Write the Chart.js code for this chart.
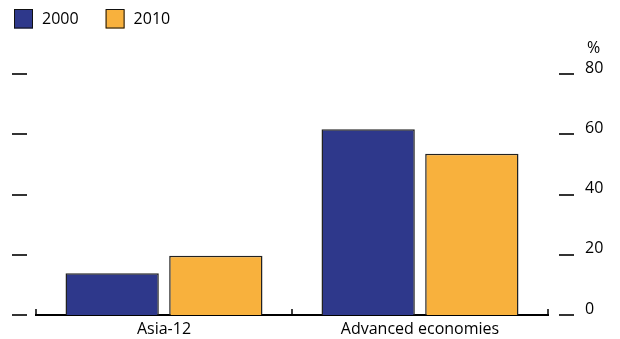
<!DOCTYPE html>
<html><head><meta charset="utf-8">
<script src="https://cdn.jsdelivr.net/npm/chart.js@4.4.1/dist/chart.umd.min.js"></script>
<style>html,body{margin:0;padding:0;background:#fff}#wrap{width:620px;height:339px}</style>
</head><body><div id="wrap"><canvas id="c" width="620" height="339"></canvas></div>
<script>
const categories = ['Asia-12', 'Advanced economies'];
const seriesNames = ['2000', '2010'];
const values2000 = [13.9, 61.7];
const values2010 = [19.7, 53.5];
const yTickValues = [0, 20, 40, 60, 80];
const unitLabel = '%';

const FONT = '"Open Sans", "DejaVu Sans", sans-serif';
const colors = ['#2e388b', '#f8b13d'];

const decor = {
  id: 'decor',
  afterDraw(chart) {
    const ctx = chart.ctx;
    const y = chart.scales.y, x = chart.scales.x;
    const area = chart.chartArea;
    ctx.save();
    // side dashes
    ctx.fillStyle = '#333';
    y.ticks.forEach(t => {
      const py = Math.round(y.getPixelForValue(t.value));
      ctx.fillRect(12, py - 1, 15, 2);
      ctx.fillRect(area.right + 11, py - 1, 15, 2);
    });
    // baseline up-ticks at category boundaries
    ctx.strokeStyle = '#000';
    ctx.lineWidth = 1.5;
    const base = y.getPixelForValue(0);
    const bounds = [area.left];
    for (let i = 0; i < categories.length - 1; i++) {
      bounds.push((x.getPixelForValue(i) + x.getPixelForValue(i + 1)) / 2);
    }
    bounds.push(area.right);
    bounds.forEach(bx => {
      ctx.beginPath();
      ctx.moveTo(bx, base);
      ctx.lineTo(bx, base - 6);
      ctx.stroke();
    });
    // unit label
    ctx.fillStyle = '#000';
    ctx.font = '16px ' + FONT;
    ctx.textAlign = 'left';
    ctx.textBaseline = 'middle';
    ctx.fillText(unitLabel, area.right + 39, y.getPixelForValue(80) - 26);
    // legend
    let lx = 14;
    chart.data.datasets.forEach(ds => {
      ctx.fillStyle = ds.backgroundColor;
      ctx.fillRect(lx, 9.5, 19, 19);
      ctx.strokeStyle = '#111';
      ctx.lineWidth = 1;
      ctx.strokeRect(lx + 0.5, 9.5, 18, 18.5);
      ctx.fillStyle = '#000';
      ctx.textBaseline = 'middle';
      ctx.fillText(ds.label, lx + 28, 19.5);
      lx += 28 + ctx.measureText(ds.label).width + 27;
    });
    ctx.restore();
  }
};

new Chart(document.getElementById('c'), {
  type: 'bar',
  data: {
    labels: categories,
    datasets: [
      { label: seriesNames[0], data: values2000, backgroundColor: colors[0], borderColor: '#222', borderWidth: 1.5 },
      { label: seriesNames[1], data: values2010, backgroundColor: colors[1], borderColor: '#222', borderWidth: 1.5 }
    ]
  },
  options: {
    responsive: false,
    animation: false,
    devicePixelRatio: 1,
    layout: { padding: { left: 36, top: 74, right: 0, bottom: 0 } },
    datasets: { bar: { barPercentage: 0.9, categoryPercentage: 0.81 } },
    plugins: { legend: { display: false }, tooltip: { enabled: false } },
    scales: {
      x: {
        offset: true,
        grid: { display: false, drawTicks: false },
        border: { display: true, color: '#000', width: 2 },
        ticks: { color: '#000', font: { family: FONT, size: 16 }, padding: 5, maxRotation: 0 },
        afterFit: s => { s.height = 24; }
      },
      y: {
        position: 'right',
        min: 0, max: 80,
        afterBuildTicks: s => { s.ticks = yTickValues.map(v => ({ value: v })); },
        grid: { display: false, drawTicks: false },
        border: { display: false },
        ticks: { color: '#000', font: { family: FONT, size: 16 }, padding: 37, labelOffset: -6 },
        afterFit: s => { s.width = 72; s.paddingTop = 8; s.paddingBottom = 8; }
      }
    }
  },
  plugins: [decor]
});
</script></body></html>
